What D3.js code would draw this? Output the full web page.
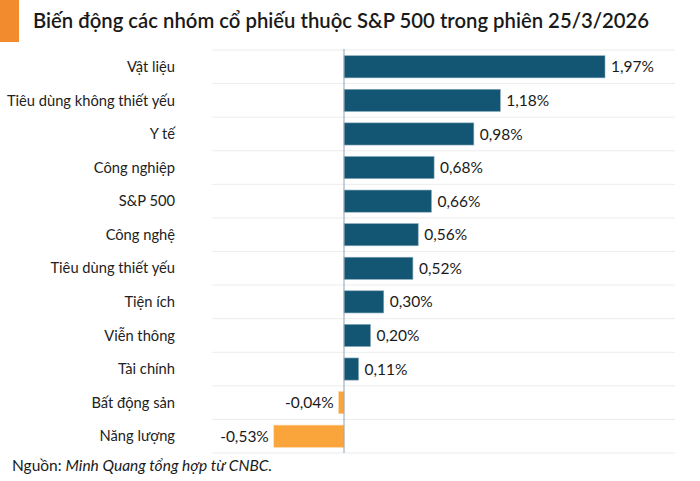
<!DOCTYPE html>
<html>
<head>
<meta charset="utf-8">
<script src="https://cdn.jsdelivr.net/npm/d3@7.9.0/dist/d3.min.js"></script>
<style>
  body { margin: 0; background: #fff; }
  svg { display: block; font-family: Lato, "Noto Sans", sans-serif; }
</style>
</head>
<body>
<svg id="chart" width="700" height="481"></svg>
<script>
const categories = ['Vật liệu', 'Tiêu dùng không thiết yếu', 'Y tế', 'Công nghiệp', 'S&P 500',
  'Công nghệ', 'Tiêu dùng thiết yếu', 'Tiện ích', 'Viễn thông', 'Tài chính', 'Bất động sản', 'Năng lượng'];
const values = [1.97, 1.18, 0.98, 0.68, 0.66, 0.56, 0.52, 0.30, 0.20, 0.11, -0.04, -0.53];

const svg = d3.select('#chart');

// title block
svg.append('rect').attr('x', 0).attr('y', 0).attr('width', 19).attr('height', 42).attr('fill', '#f28a2e');
svg.append('text')
  .attr('x', 33).attr('y', 28)
  .attr('font-size', 20.3).attr('font-weight', 600).attr('fill', '#1a1a1a')
  .text('Biến động các nhóm cổ phiếu thuộc S&P 500 trong phiên 25/3/2026');

const x = d3.scaleLinear().domain([-0.53, 1.97]).range([273.8, 605]);
const y = d3.scaleBand().domain(categories).range([50, 453]).paddingInner(0.34).paddingOuter(0.17);
const step = y.step();

// row separators
const g = svg.append('g');
d3.range(categories.length + 1).forEach(i => {
  const yy = 50 + i * step;
  g.append('line').attr('x1', 212).attr('x2', 675).attr('y1', yy).attr('y2', yy)
    .attr('stroke', '#ececec').attr('stroke-width', 1);
});

const data = categories.map((c, i) => ({ cat: c, v: values[i] }));

g.selectAll('rect.bar').data(data).join('rect')
  .attr('class', 'bar')
  .attr('x', d => x(Math.min(0, d.v)))
  .attr('width', d => Math.abs(x(d.v) - x(0)))
  .attr('y', d => y(d.cat))
  .attr('height', y.bandwidth())
  .attr('fill', d => d.v < 0 ? '#f9a53b' : '#135673')
  .attr('stroke', d => d.v < 0 ? '#fcd29c' : '#8aaabb')
  .attr('stroke-width', 0.6);

// zero line
g.append('line').attr('x1', x(0)).attr('x2', x(0)).attr('y1', 49).attr('y2', 453)
  .attr('stroke', '#8ea3b3').attr('stroke-width', 1);

// category labels
g.selectAll('text.cat').data(data).join('text')
  .attr('class', 'cat')
  .attr('x', 175)
  .attr('y', d => y(d.cat) + y.bandwidth() / 2)
  .attr('dy', '0.35em')
  .attr('text-anchor', 'end')
  .attr('font-size', 14.7).attr('fill', '#222')
  .text(d => d.cat);

// value labels
const fmt = v => v.toFixed(2).replace('.', ',') + '%';
g.selectAll('text.val').data(data).join('text')
  .attr('class', 'val')
  .attr('x', d => d.v < 0 ? x(d.v) - 5 : x(d.v) + 6)
  .attr('y', d => y(d.cat) + y.bandwidth() / 2)
  .attr('dy', '0.36em')
  .attr('text-anchor', d => d.v < 0 ? 'end' : 'start')
  .attr('font-size', 15.5).attr('fill', '#1a1a1a')
  .text(d => fmt(d.v));

// footer
const foot = svg.append('text').attr('x', 12).attr('y', 471).attr('font-size', 15.5).attr('fill', '#1a1a1a');
foot.append('tspan').text('Nguồn: ');
foot.append('tspan').attr('font-style', 'italic').text('Minh Quang tổng hợp từ CNBC.');
</script>
</body>
</html>
